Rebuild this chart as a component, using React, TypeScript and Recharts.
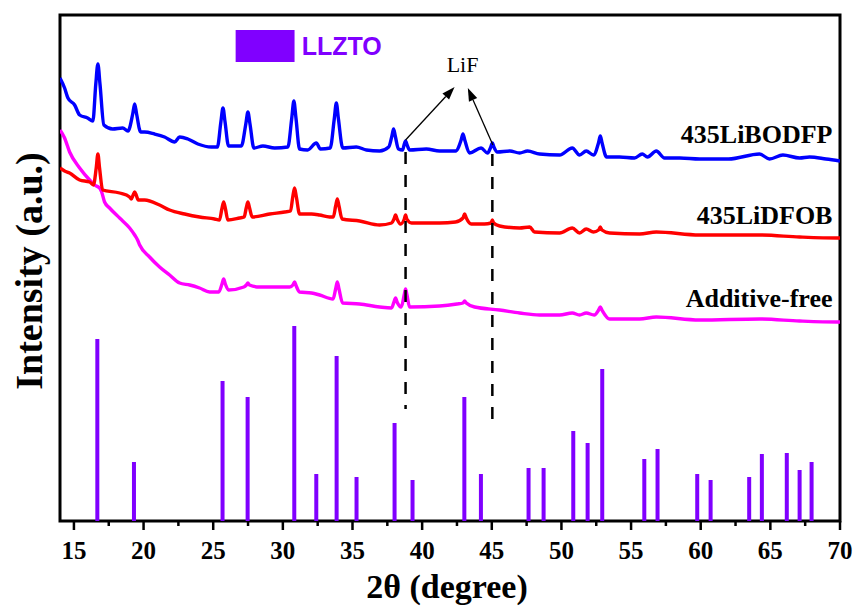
import React from 'react';
import {
  ComposedChart,
  Line,
  XAxis,
  YAxis,
  ReferenceArea,
  ReferenceLine,
  ReferenceDot,
} from 'recharts';

// ---------- data ----------
const xTicks = [15, 17.5, 20, 22.5, 25, 27.5, 30, 32.5, 35, 37.5, 40, 42.5, 45, 47.5, 50, 52.5, 55, 57.5, 60, 62.5, 65, 67.5, 70];

// LLZTO reference pattern (2θ, relative intensity)
const llztoPos = [16.68, 19.31, 25.67, 27.47, 30.82, 32.4, 33.86, 35.29, 38.02, 39.31, 43.03, 44.22, 47.64, 48.72, 50.85, 51.88, 52.93, 55.95, 56.9, 59.75, 60.71, 63.48, 64.39, 66.18, 67.1, 67.96];
const llztoInt = [181, 58, 139, 123, 194, 46, 164, 43, 97, 40, 123, 46, 52, 52, 89, 77, 151, 61, 71, 46, 40, 43, 66, 67, 50, 58];

const traceLiBODFP: [number, number][] = [
  [14.0, 442], [14.33, 432], [14.57, 422], [15.05, 415], [15.41, 405], [15.98, 402], [16.36, 399], [16.57, 436], [16.72, 456], [16.87, 436],
  [17.15, 395], [17.78, 391], [18.5, 392], [18.88, 389], [19.22, 406], [19.36, 416], [19.5, 406], [19.79, 388], [20.08, 388], [20.79, 386],
  [21.51, 383], [22.23, 378], [22.59, 383], [23.18, 381], [23.9, 376], [24.86, 373], [25.3, 373], [25.55, 398], [25.7, 412], [25.85, 398],
  [26.1, 374], [27.02, 374], [27.34, 396], [27.49, 408], [27.64, 396], [27.92, 372], [28.57, 374], [29.41, 372], [30.36, 373], [30.64, 402],
  [30.79, 419], [30.94, 402], [31.2, 371], [31.78, 370], [32.4, 377], [32.7, 371], [33.4, 372], [33.69, 401], [33.84, 417], [33.99, 401],
  [34.3, 372], [35.27, 373], [36.0, 370], [36.95, 369], [37.6, 373], [37.83, 384], [37.95, 391], [38.07, 384], [38.3, 371], [38.6, 370],
  [38.7, 375], [38.81, 379], [38.92, 375], [39.1, 370], [40.3, 371], [41.25, 369], [42.4, 369], [42.8, 380], [42.93, 386], [43.06, 380],
  [43.4, 367], [44.23, 372], [44.69, 367], [44.93, 373], [45.04, 377], [45.15, 373], [45.4, 368], [46.3, 369], [47.0, 367], [47.57, 369],
  [48.43, 366], [49.87, 365], [50.78, 372], [51.3, 365], [51.78, 369], [52.3, 365], [52.66, 377], [52.79, 384], [52.92, 377], [53.24, 363],
  [54.17, 363], [55.25, 362], [55.8, 366], [56.18, 363], [56.81, 369], [57.4, 362], [58.5, 362], [59.91, 361], [62.0, 361], [64.22, 366],
  [64.94, 361], [65.9, 365], [67.1, 362], [67.81, 363], [69.0, 361], [70.0, 359],
];

const traceLiDFOB: [number, number][] = [
  [14.0, 352], [14.33, 349], [14.69, 347], [15.41, 340], [16.13, 338], [16.4, 335], [16.6, 352], [16.72, 366], [16.84, 352], [17.06, 330],
  [18.28, 327], [19.0, 323], [19.12, 321], [19.25, 325], [19.36, 328], [19.47, 325], [19.62, 320], [20.08, 320], [21.15, 315], [21.87, 310],
  [22.95, 306], [24.02, 303], [25.1, 301], [25.45, 300], [25.62, 311], [25.75, 318], [25.88, 311], [26.05, 300], [26.89, 302], [27.22, 303],
  [27.37, 312], [27.49, 318], [27.61, 312], [27.8, 303], [29.05, 306], [30.13, 308], [30.55, 309], [30.71, 323], [30.84, 332], [30.97, 323],
  [31.2, 306], [32.06, 306], [32.64, 305], [33.35, 303], [33.62, 303], [33.79, 314], [33.91, 321], [34.03, 314], [34.25, 301], [35.51, 299],
  [36.95, 295], [37.81, 297], [37.98, 301], [38.09, 305], [38.2, 301], [38.45, 296], [38.72, 301], [38.81, 305], [38.9, 301], [39.24, 297],
  [41.25, 297], [42.4, 298], [42.93, 302], [43.05, 306], [43.17, 302], [43.53, 296], [44.47, 296], [44.95, 297], [45.04, 300], [45.13, 297],
  [45.56, 294], [47.0, 292], [47.72, 293], [48.07, 288], [49.87, 287], [50.78, 292], [51.3, 287], [51.78, 291], [52.3, 288], [52.67, 290],
  [52.79, 293], [52.91, 290], [53.46, 287], [55.61, 286], [56.81, 288], [59.91, 285], [64.22, 285], [67.1, 283], [69.82, 282], [70.0, 282],
];

const traceAdditiveFree: [number, number][] = [
  [14.0, 390], [14.33, 382], [14.69, 368], [15.41, 352], [16.13, 340], [16.49, 335], [16.84, 332], [16.99, 328], [17.2, 318], [17.56, 312],
  [18.28, 302], [19.0, 292], [19.36, 285], [19.57, 280], [19.72, 275], [20.43, 263], [21.15, 253], [21.87, 245], [22.59, 237], [23.31, 235],
  [24.02, 232], [24.74, 228], [25.4, 228], [25.63, 236], [25.75, 241], [25.87, 236], [26.1, 230], [27.2, 233], [27.38, 235], [27.49, 237],
  [27.6, 235], [28.33, 233], [29.41, 233], [30.49, 233], [30.72, 235], [30.84, 238], [30.96, 234], [31.2, 228], [32.06, 227], [32.64, 225],
  [33.6, 221], [33.79, 231], [33.91, 238], [34.03, 231], [34.29, 217], [35.51, 216], [36.95, 213], [37.8, 212], [37.98, 218], [38.09, 222],
  [38.2, 218], [38.5, 213], [38.71, 225], [38.81, 231], [38.91, 225], [39.1, 213], [41.25, 214], [42.5, 216], [42.93, 217], [43.05, 219],
  [43.17, 217], [43.77, 213], [45.56, 210], [47.0, 207], [48.43, 205], [49.87, 205], [50.78, 207], [51.3, 205], [51.78, 207], [52.35, 205],
  [52.67, 210], [52.79, 213], [52.91, 210], [53.46, 201], [55.61, 201], [56.81, 203], [59.91, 200], [64.22, 201], [67.1, 199], [69.82, 198],
  [70.0, 198],
];

const seriesNames = ['435LiBODFP', '435LiDFOB', 'Additive-free'];
const refName = 'LLZTO';
const lifLabel = 'LiF';
const xTitle = '2θ (degree)';
const yTitle = 'Intensity (a.u.)';

// ---------- derived ----------
const toRows = (t: [number, number][]) => t.map(([x, y]) => ({ x, y }));
const stickRows = llztoPos.flatMap((p, i) => [
  { x: p, y: -1 },
  { x: p, y: llztoInt[i] },
  { x: p, y: null as number | null },
]);

const SERIF = "'Times New Roman', 'Liberation Serif', serif";
const SANS = "Arial, 'Liberation Sans', sans-serif";
const PURPLE = '#8000ff';

const XTick = (props: any) => {
  const { x, y, payload } = props;
  const v = payload.value as number;
  const major = Math.abs(v % 5) < 1e-6;
  return (
    <g>
      <line x1={x} x2={x} y1={y} y2={y + (major ? 9 : 5)} stroke="#000" strokeWidth={2.5} />
      {major && (
        <text x={x} y={y + 38} textAnchor="middle" fontFamily={SERIF} fontWeight="bold" fontSize={25} fill="#000">
          {v}
        </text>
      )}
    </g>
  );
};

const XTitle = (props: any) => {
  const vb = props.viewBox;
  return (
    <text x={vb.x + vb.width / 2 - 3} y={598} textAnchor="middle" fontFamily={SERIF} fontWeight="bold" fontSize={34} fill="#000">
      {xTitle}
    </text>
  );
};

const YTitle = (props: any) => {
  const vb = props.viewBox;
  const cx = 42;
  const cy = vb.y + vb.height / 2 + 3;
  return (
    <text x={cx} y={cy} transform={`rotate(-90, ${cx}, ${cy})`} textAnchor="middle" fontFamily={SERIF} fontWeight="bold" fontSize={38} fill="#000">
      {yTitle}
    </text>
  );
};

const Arrow = (p: any) => {
  const { x1, y1, x2, y2 } = p;
  const ang = Math.atan2(y2 - y1, x2 - x1);
  const L = 13;
  const W = 4.5;
  const bx = x2 - L * Math.cos(ang);
  const by = y2 - L * Math.sin(ang);
  const pts = `${x2},${y2} ${bx + W * Math.sin(ang)},${by - W * Math.cos(ang)} ${bx - W * Math.sin(ang)},${by + W * Math.cos(ang)}`;
  return (
    <g>
      <line x1={x1} y1={y1} x2={bx} y2={by} stroke="#000" strokeWidth={1.3} />
      <polygon points={pts} fill="#000" />
    </g>
  );
};

const textShape = (label: string, opts: any) => (p: any) => (
  <text x={p.cx} y={p.cy} {...opts}>
    {label}
  </text>
);

export default function App() {
  return (
    <div style={{ position: 'absolute', left: 0, top: 0, width: 854, height: 613, background: '#fff' }}>
      <ComposedChart width={854} height={613} margin={{ top: 15, right: 14, left: 0, bottom: 0 }}>
        <XAxis
          type="number"
          dataKey="x"
          domain={[14, 70]}
          allowDataOverflow
          ticks={xTicks}
          interval={0}
          tickSize={0}
          tickMargin={0}
          tickLine={false}
          axisLine={false}
          tick={<XTick />}
          height={92}
          label={XTitle}
        />
        <YAxis
          type="number"
          dataKey="y"
          domain={[-1, 505]}
          allowDataOverflow
          tick={false}
          tickLine={false}
          axisLine={false}
          width={60}
          label={YTitle}
        />

        <Line
          data={stickRows}
          dataKey="y"
          type="linear"
          stroke={PURPLE}
          strokeWidth={4}
          dot={false}
          connectNulls={false}
          isAnimationActive={false}
        />
        <Line data={toRows(traceAdditiveFree)} dataKey="y" type="monotone" stroke="#ff00ff" strokeWidth={3.4} dot={false} isAnimationActive={false} />
        <Line data={toRows(traceLiDFOB)} dataKey="y" type="monotone" stroke="#ff0000" strokeWidth={3.4} dot={false} isAnimationActive={false} />
        <Line data={toRows(traceLiBODFP)} dataKey="y" type="monotone" stroke="#0000ff" strokeWidth={3.4} dot={false} isAnimationActive={false} />

        {/* LiF markers */}
        <ReferenceLine segment={[{ x: 38.81, y: 368 }, { x: 38.81, y: 111 }]} stroke="#000" strokeWidth={2.5} strokeDasharray="12 11" ifOverflow="visible" />
        <ReferenceLine segment={[{ x: 45.04, y: 366 }, { x: 45.04, y: 100 }]} stroke="#000" strokeWidth={2.5} strokeDasharray="12 11" ifOverflow="visible" />
        <ReferenceLine segment={[{ x: 38.81, y: 380 }, { x: 42.33, y: 433 }]} shape={Arrow} ifOverflow="visible" />
        <ReferenceLine segment={[{ x: 45.08, y: 375 }, { x: 43.28, y: 432 }]} shape={Arrow} ifOverflow="visible" />
        <ReferenceDot x={42.9} y={448} r={0} ifOverflow="visible" shape={textShape(lifLabel, { textAnchor: 'middle', fontFamily: SERIF, fontSize: 22, fill: '#000' })} />

        {/* legend */}
        <ReferenceArea x1={26.61} x2={30.84} y1={458} y2={490} fill={PURPLE} fillOpacity={1} stroke="none" ifOverflow="visible" />
        <ReferenceDot x={31.35} y={465} r={0} ifOverflow="visible" shape={textShape(refName, { textAnchor: 'start', fontFamily: SANS, fontWeight: 'bold', fontSize: 25, fill: PURPLE })} />

        {/* series names */}
        <ReferenceDot x={69.46} y={377} r={0} ifOverflow="visible" shape={textShape(seriesNames[0], { textAnchor: 'end', fontFamily: SERIF, fontWeight: 'bold', fontSize: 26, fill: '#000' })} />
        <ReferenceDot x={69.46} y={296} r={0} ifOverflow="visible" shape={textShape(seriesNames[1], { textAnchor: 'end', fontFamily: SERIF, fontWeight: 'bold', fontSize: 26, fill: '#000' })} />
        <ReferenceDot x={69.46} y={213} r={0} ifOverflow="visible" shape={textShape(seriesNames[2], { textAnchor: 'end', fontFamily: SERIF, fontWeight: 'bold', fontSize: 26, fill: '#000' })} />

        {/* frame */}
        <ReferenceArea x1={14} x2={70} y1={-1} y2={505} fill="none" stroke="#000" strokeWidth={3} ifOverflow="visible" />
      </ComposedChart>
    </div>
  );
}
